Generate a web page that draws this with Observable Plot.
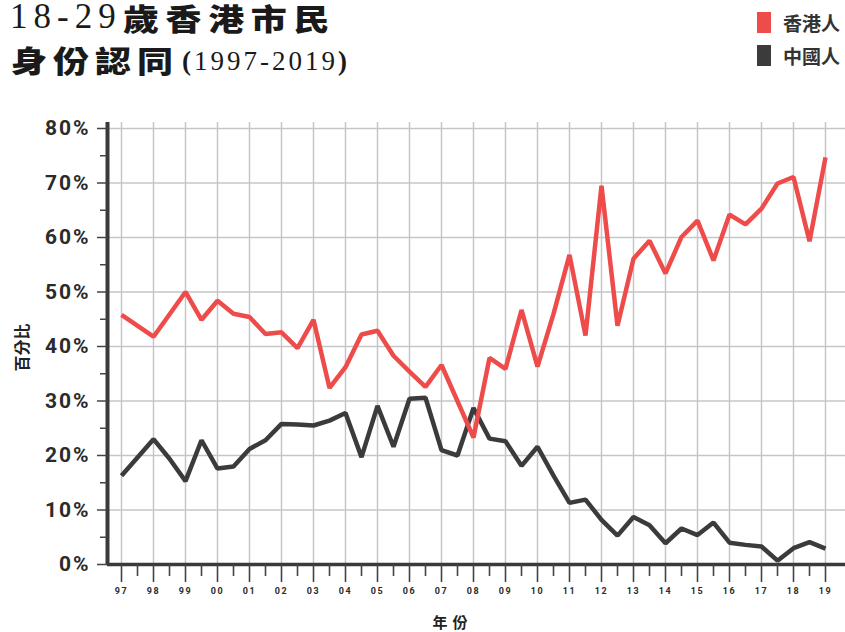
<!DOCTYPE html>
<html>
<head>
<meta charset="utf-8">
<script src="https://cdn.jsdelivr.net/npm/d3@7"></script>
<script src="https://cdn.jsdelivr.net/npm/@observablehq/plot@0.6"></script>
<style>
  html, body { margin: 0; padding: 0; background: #fff; }
  #page { width: 845px; height: 632px; overflow: hidden; position: relative; }
  #header { position: relative; width: 845px; height: 90px; }
  .t { position: absolute; white-space: nowrap; color: #1a1a1a; line-height: 32px; }
  .num { font-family: "Liberation Serif", serif; font-weight: normal; }
  .cjk { font-family: "Noto Sans CJK TC", sans-serif; font-weight: 900; display: inline-block; transform: scaleX(1.2); transform-origin: left center; }
  .sw { position: absolute; left: 757px; width: 14px; height: 21px; }
  .lg { position: absolute; left: 783px; font-family: "Noto Sans CJK TC", sans-serif; font-weight: 700; font-size: 19px; line-height: 21px; color: #333; }
  g[aria-label="y-axis tick label"] text { letter-spacing: 2px; }
  g[aria-label="x-axis tick label"] text { letter-spacing: 1.5px; }
  g[aria-label="text"] text { letter-spacing: 5px; }
  g[aria-label="text"] text[transform*="rotate"] { letter-spacing: 0px; }
</style>
</head>
<body>
<div id="page">
  <div id="header">
    <div class="t num" style="left:10px;top:1px;font-size:35px;letter-spacing:6px">18-29</div>
    <div class="t" style="left:123px;top:1px"><span class="cjk" style="font-size:30px;letter-spacing:5.5px">歲香港市民</span></div>
    <div class="t" style="left:11px;top:43px"><span class="cjk" style="font-size:30px;letter-spacing:5px">身份認同</span></div>
    <div class="t num" style="left:182px;top:45px;font-size:27px;letter-spacing:3px"><b>(</b>1997-2019<b>)</b></div>
    <div class="sw" style="top:12px;background:#ee4b4b"></div>
    <div class="lg" style="top:12px">香港人</div>
    <div class="sw" style="top:45px;background:#3b3b3b"></div>
    <div class="lg" style="top:45px">中國人</div>
  </div>
  <div id="chart"></div>
</div>
<script>
// ---- data ----
const seriesNames = ["香港人", "中國人"];
const seriesColors = ["#ee4b4b", "#3b3b3b"];

const hkYears = [1997,1998,1999,1999.5,2000,2000.5,2001,2001.5,2002,2002.5,2003,2003.5,2004,2004.5,2005,2005.5,2006,2006.5,2007,
  2008,2008.5,2009,2009.5,2010,2010.5,2011,2011.5,2012,2012.5,2013,2013.5,2014,2014.5,2015,2015.5,2016,2016.5,2017,2017.5,2018,2018.5,2019];
const hkValues = [45.8,41.8,50.0,44.9,48.4,46.0,45.4,42.3,42.6,39.7,44.9,32.4,36.2,42.2,42.9,38.3,35.4,32.6,36.6,
  23.3,37.9,35.9,46.7,36.3,46.0,56.8,42.0,69.5,43.8,56.1,59.4,53.4,60.1,63.1,55.8,64.2,62.4,65.3,69.9,71.1,59.3,74.7];

const cnYears = [1997,1998,1998.5,1999,1999.5,2000,2000.5,2001,2001.5,2002,2002.5,2003,2003.5,2004,2004.5,2005,2005.5,2006,2006.5,2007,
  2007.5,2008,2008.5,2009,2009.5,2010,2010.5,2011,2011.5,2012,2012.5,2013,2013.5,2014,2014.5,2015,2015.5,2016,2016.5,2017,2017.5,2018,2018.5,2019];
const cnValues = [16.3,23.0,19.4,15.3,22.8,17.6,18.0,21.2,22.8,25.8,25.7,25.5,26.4,27.8,19.7,29.1,21.6,30.4,30.6,21.0,
  20.0,28.7,23.1,22.6,18.1,21.6,16.3,11.3,11.9,8.2,5.3,8.7,7.2,3.9,6.6,5.4,7.7,4.0,3.6,3.3,0.7,3.0,4.1,2.9];

const xTicks = [1997,1998,1999,2000,2001,2002,2003,2004,2005,2006,2007,2008,2009,2010,2011,2012,2013,2014,2015,2016,2017,2018,2019];
const xTickLabels = ["97","98","99","00","01","02","03","04","05","06","07","08","09","10","11","12","13","14","15","16","17","18","19"];
const yTicks = [0,10,20,30,40,50,60,70,80];
const yTickLabels = ["0%","10%","20%","30%","40%","50%","60%","70%","80%"];
const xTitle = "年份";
const yTitle = "百分比";

// ---- tables ----
const hk = hkYears.map((x, i) => ({x, v: hkValues[i], s: seriesNames[0]}));
const cn = cnYears.map((x, i) => ({x, v: cnValues[i], s: seriesNames[1]}));
const xMinor = xTicks.slice(1).map(d => d - 0.5);
const yMinor = yTicks.slice(1).map(d => d - 5);
const xDomain = [1996.5625, 2019.625];
const yDomain = [0, 81.1];

const axisColor = "#3a3a3a";
const gridColor = "#c6c6ca";

const chart = Plot.plot({
  width: 845,
  height: 542,
  marginLeft: 107,
  marginRight: 0,
  marginTop: 32,
  marginBottom: 68,
  x: {domain: xDomain},
  y: {domain: yDomain},
  style: {fontFamily: "Roboto, sans-serif", background: "white", color: "#333"},
  marks: [
    Plot.gridX(xTicks, {stroke: gridColor, strokeOpacity: 1, strokeWidth: 1.5}),
    Plot.gridY(yTicks.slice(1), {stroke: gridColor, strokeOpacity: 1, strokeWidth: 1.5}),
    Plot.line(cn, {x: "x", y: "v", stroke: seriesColors[1], strokeWidth: 4.5, strokeLinejoin: "miter", strokeLinecap: "butt"}),
    Plot.line(hk, {x: "x", y: "v", stroke: seriesColors[0], strokeWidth: 4.5, strokeLinejoin: "miter", strokeLinecap: "butt"}),
    Plot.ruleY([yDomain[0]], {stroke: axisColor, strokeWidth: 3.5}),
    Plot.ruleX([xDomain[0]], {stroke: axisColor, strokeWidth: 4}),
    Plot.axisY({ticks: yTicks, tickSize: 10, tickPadding: 7, tickFormat: d => yTickLabels[yTicks.indexOf(d)],
      fontSize: 21, fontWeight: "bold", stroke: "#444", strokeWidth: 1.5, color: "#2b2b2b", label: null}),
    Plot.axisY({ticks: yMinor, tickSize: 7, tickFormat: () => "", stroke: "#444", strokeWidth: 1.5, label: null}),
    Plot.axisX({ticks: xTicks, tickSize: 18, tickPadding: 5, tickFormat: d => xTickLabels[xTicks.indexOf(d)],
      fontSize: 9, fontWeight: "bold", stroke: "#444", strokeWidth: 1.6, color: "#2b2b2b", label: null}),
    Plot.axisX({ticks: xMinor, tickSize: 12, tickFormat: () => "", stroke: "#444", strokeWidth: 1.6, label: null}),
    Plot.text([yTitle], {text: d => d, frameAnchor: "left", dx: -85, dy: 4, rotate: -90, textAnchor: "middle",
      fontSize: 16, fontWeight: "bold", fontFamily: "Noto Sans CJK TC", fill: "#222"}),
    Plot.text([xTitle], {text: d => d, frameAnchor: "bottom", dx: -24, dy: 59, lineAnchor: "middle",
      fontSize: 15, fontWeight: "bold", fontFamily: "Noto Sans CJK TC", fill: "#222"})
  ]
});
document.getElementById("chart").appendChild(chart);
</script>
</body>
</html>
